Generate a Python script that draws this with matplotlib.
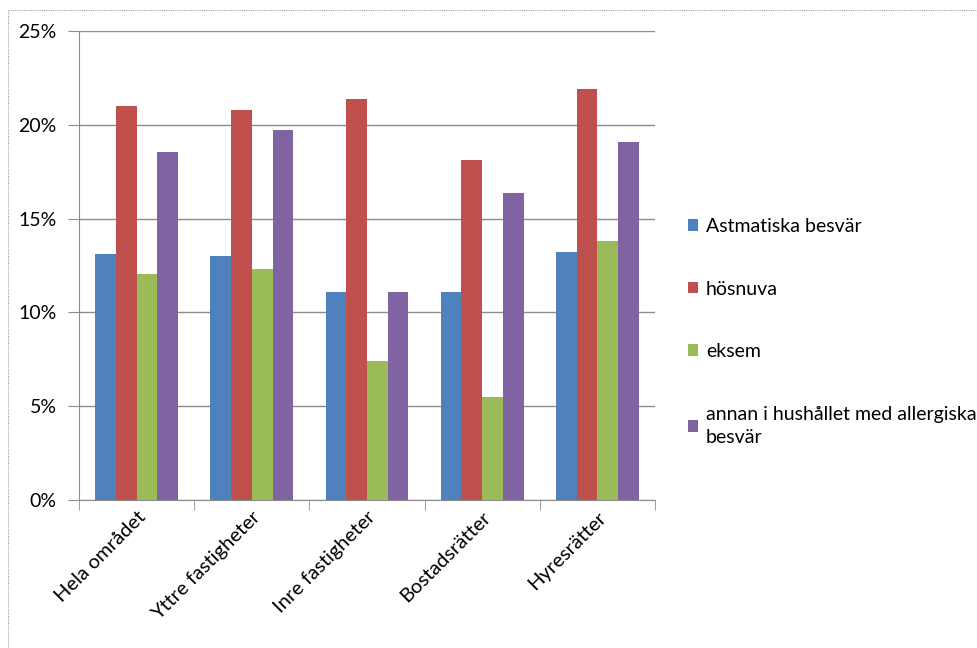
import matplotlib.pyplot as plt
import numpy as np
from matplotlib.patches import Rectangle
from matplotlib.ticker import FuncFormatter

categories = ["Hela området", "Yttre fastigheter", "Inre fastigheter", "Bostadsrätter", "Hyresrätter"]
series_names = ["Astmatiska besvär", "hösnuva", "eksem", "annan i hushållet med allergiska\nbesvär"]
astma = [13.1, 13.0, 11.1, 11.1, 13.2]
hosnuva = [21.0, 20.8, 21.4, 18.1, 21.9]
eksem = [12.05, 12.3, 7.4, 5.5, 13.8]
annan = [18.55, 19.7, 11.1, 16.35, 19.1]
colors = ["#4F81BD", "#C0504D", "#9BBB59", "#8064A2"]

plt.rcParams['font.family'] = ['Lato', 'DejaVu Sans']

fig = plt.figure(figsize=(9.77, 6.48), dpi=100)
ax = fig.add_axes([79/977, 1 - 500/648, 576/977, 469/648])

x = np.arange(len(categories))
w = 0.18
for i, (vals, name) in enumerate(zip([astma, hosnuva, eksem, annan], series_names)):
    ax.bar(x + (i - 1.5) * w, vals, w, color=colors[i], label=name, zorder=3)

ax.set_xlim(-0.5, len(categories) - 0.5)
ax.set_ylim(0, 25)
ax.set_yticks(np.arange(0, 26, 5))
ax.yaxis.set_major_formatter(FuncFormatter(lambda v, p: f"{v:.0f}%"))
ax.yaxis.grid(True, color="#8c8c8c", linewidth=1, zorder=0)

ax.set_xticks(x)
ax.set_xticklabels(categories, rotation=45, ha="right", rotation_mode="anchor")
ax.set_xticks(np.arange(-0.5, len(categories)), minor=True)
ax.tick_params(axis="x", which="major", length=0, pad=6, labelsize=14.5)
ax.tick_params(axis="x", which="minor", length=7, color="#8c8c8c")
ax.tick_params(axis="y", length=8, color="#8c8c8c", labelsize=14, pad=8)

for s in ["top", "right"]:
    ax.spines[s].set_visible(False)
for s in ["left", "bottom"]:
    ax.spines[s].set_color("#8c8c8c")

leg = fig.legend(loc="center left", bbox_to_anchor=(670/977, 1 - 332/648), frameon=False,
                 fontsize=14, labelspacing=2.35, handlelength=0.55, handleheight=0.55,
                 handletextpad=0.4)
for t in leg.get_texts():
    t.set_linespacing(1.45)

fig.patches.append(Rectangle((8/977, -0.1), 1.1, 1 - 10/648 + 0.1, transform=fig.transFigure,
                             fill=False, edgecolor="#a0a0a0", linewidth=0.8, linestyle=(0, (1, 1))))

fig.savefig("out.png", dpi=100)
